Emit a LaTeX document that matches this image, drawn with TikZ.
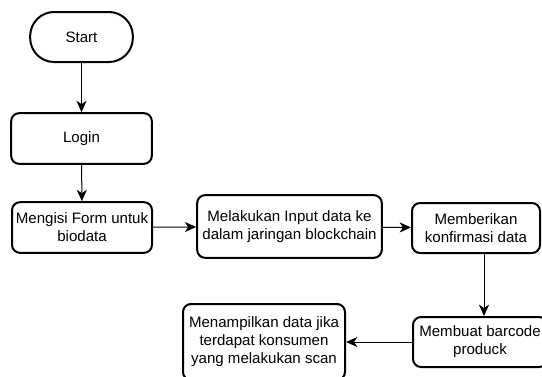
\documentclass[tikz,border=0pt]{standalone}
\usepackage{fontspec}
\setmainfont{Liberation Sans}
\usetikzlibrary{arrows.meta}

\tikzset{
  prosesbox/.style={draw=black, line width=1.5pt, rounded corners=6pt, align=center,
    inner sep=0pt, font=\fontsize{11.3}{13.5}\selectfont},
  mulaibox/.style={prosesbox, rounded corners=18pt},
  alur/.style={line width=0.75pt, -{Stealth[length=8.5pt,width=7.5pt,inset=2.5pt]}}
}

\begin{document}
\begin{tikzpicture}[x=0.75pt,y=-0.75pt]
% bidang gambar sebesar gambar acuan
\useasboundingbox (0,0) rectangle (542,376);
\clip (0,0) rectangle (542,376);

% titik pusat tiap langkah
\coordinate (Cstart) at (81.5,37);
\coordinate (Clogin) at (81.5,138.5);
\coordinate (Cform) at (82,227.5);
\coordinate (Cinput) at (289.5,226.5);
\coordinate (Ckonf) at (476,228);
\coordinate (Cbarcode) at (480,342);
\coordinate (Ctampil) at (264,342);
\coordinate (Cpanah) at (484,0);

\node[mulaibox, minimum width=77pt, minimum height=37.5pt] (start) at (Cstart) {Start};
\node[prosesbox, minimum width=105.5pt, minimum height=38pt] (login) at (Clogin) {Login};
\node[prosesbox, minimum width=105pt, minimum height=38pt] (form) at (Cform) {Mengisi Form untuk\\biodata};
\node[prosesbox, minimum width=138.5pt, minimum height=47pt] (input) at (Cinput) {Melakukan Input data ke\\dalam jaringan blockchain};
\node[prosesbox, minimum width=96pt, minimum height=37.5pt] (konf) at (Ckonf) {Memberikan\\konfirmasi data};
\node[prosesbox, minimum width=100.5pt, minimum height=37.5pt] (barcode) at (Cbarcode) {Membuat barcode\\produck};
\node[prosesbox, minimum width=121.5pt, minimum height=57pt] (tampil) at (Ctampil) {Menampilkan data jika\\terdapat konsumen\\yang melakukan scan};

\draw[alur] (start) -- (login);
\draw[alur] (login) -- (form);
\draw[alur] (form) -- (input);
\draw[alur] (input) -- (konf);
\draw[alur] (konf.south -| Cpanah) -- (barcode.north -| Cpanah);
\draw[alur] (barcode) -- (tampil);
\end{tikzpicture}
\end{document}
